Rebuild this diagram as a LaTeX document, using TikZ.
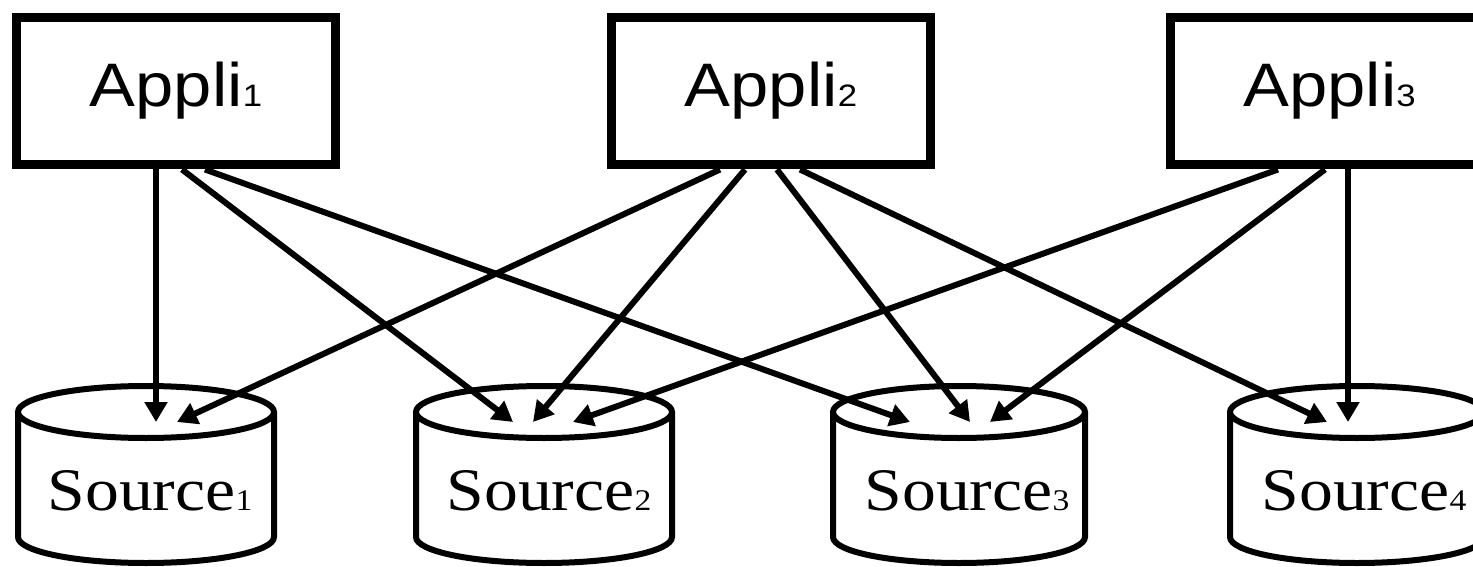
\documentclass[tikz,border=0pt]{standalone}
\usepackage{fontspec}
\usepackage{graphicx}
\setmainfont{Liberation Serif}
\newfontfamily\appfont{Liberation Sans}
\usetikzlibrary{arrows.meta,calc}
% application name with a small index at the baseline
\newcommand\appname[1]{\scalebox{1.12}[1]{Appli{\fontsize{15.5}{18}\selectfont #1}}}
% data source name with a small index at the baseline
\newcommand\srcname[1]{\scalebox{1.12}[1]{Source{\fontsize{15}{18}\selectfont #1}}}
\begin{document}
\begin{tikzpicture}[x=0.5pt,y=0.5pt,
  appbox/.style={draw, fill=white, line width=4.5pt, minimum width=159.5pt,
    minimum height=73.75pt, inner sep=0pt, text height=15.75pt, text depth=0pt,
    font=\appfont\fontsize{30.7}{36}\selectfont},
  link/.style={line width=3pt, -{Triangle[length=10pt,width=11pt]}},
  cyl/.style={line width=3pt},
  srclabel/.style={anchor=base, inner sep=0pt, font=\fontsize{30.2}{36}\selectfont},
  drum/.pic={
    \draw[cyl, fill=white] (-#1,0) -- (-#1,-125) arc[start angle=180, end angle=360,
      x radius=#1, y radius=26] -- (#1,0);
    \draw[cyl, fill=white] (0,0) ellipse [x radius=#1, y radius=26];
  }]
\useasboundingbox (0,0) rectangle (1473,-567);

% applications
\node[appbox] (a1) at (176,-91.25)    {\appname{1}};
\node[appbox] (a2) at (771,-91.25)    {\appname{2}};
\node[appbox] (a3) at (1329.5,-91.25) {\appname{3}};

% data sources (centre of the top face)
\coordinate (s1) at (146,-412);
\coordinate (s2) at (544,-412);
\coordinate (s3) at (959,-412);
\coordinate (s4) at (1357,-412);
\pic at (s1) {drum=128};
\pic at (s2) {drum=128};
\pic at (s3) {drum=126};
\pic at (s4) {drum=127};
\node[srclabel] (l1) at (150,-510)  {\srcname{1}};
\node[srclabel] (l2) at (549,-510)  {\srcname{2}};
\node[srclabel] (l3) at (967,-510)  {\srcname{3}};
\node[srclabel] (l4) at (1364,-510) {\srcname{4}};

% accesses from each application to the sources
\draw[link] ($(a1.south)+(-20,0)$)   -- ($(s1)+(10,-10)$);
\draw[link] ($(a1.south)+(6,0)$)     -- ($(s2)+(-31,-10)$);
\draw[link] ($(a1.south)+(29,0)$)    -- ($(s3)+(-49,-10)$);

\draw[link] ($(a2.south)+(-51,0)$)   -- ($(s1)+(31,-10)$);
\draw[link] ($(a2.south)+(-26,0)$)   -- ($(s2)+(-11,-10)$);
\draw[link] ($(a2.south)+(6,0)$)     -- ($(s3)+(11,-10)$);
\draw[link] ($(a2.south)+(29,0)$)    -- ($(s4)+(-30,-10)$);

\draw[link] ($(a3.south)+(-51.5,0)$) -- ($(s2)+(29,-10)$);
\draw[link] ($(a3.south)+(-4.5,0)$)  -- ($(s3)+(31,-10)$);
\draw[link] ($(a3.south)+(18.5,0)$)  -- ($(s4)+(-9,-10)$);
\end{tikzpicture}
\end{document}
